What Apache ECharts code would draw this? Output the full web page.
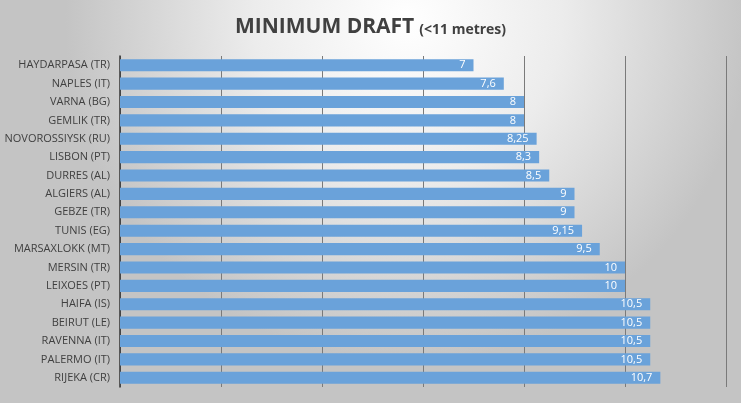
<!DOCTYPE html>
<html><head><meta charset="utf-8">
<script src="https://cdn.jsdelivr.net/npm/echarts@6/dist/echarts.min.js"></script>
<style>html,body{margin:0;padding:0;}#c{width:741px;height:403px;}</style>
</head><body><div id="c"></div>
<script>
const categories = ["HAYDARPASA (TR)","NAPLES (IT)","VARNA (BG)","GEMLIK (TR)","NOVOROSSIYSK (RU)","LISBON (PT)","DURRES (AL)","ALGIERS (AL)","GEBZE (TR)","TUNIS (EG)","MARSAXLOKK (MT)","MERSIN (TR)","LEIXOES (PT)","HAIFA (IS)","BEIRUT (LE)","RAVENNA (IT)","PALERMO (IT)","RIJEKA (CR)"];
const values = [7,7.6,8,8,8.25,8.3,8.5,9,9,9.15,9.5,10,10,10.5,10.5,10.5,10.5,10.7];
const chart = echarts.init(document.getElementById('c'));
chart.setOption({
  backgroundColor: {type:'radial', x:0.55, y:0.05, r:0.85, colorStops:[{offset:0,color:'#ffffff'},{offset:0.45,color:'#ececec'},{offset:1,color:'#c4c4c4'}]},
  title: {
    text: '{a|MINIMUM DRAFT} {b|(<11 metres)}',
    left: 'center', top: 12,
    textStyle: {rich: {
      a: {fontFamily:'Open Sans', fontWeight:'bold', fontSize:21, color:'#404040'},
      b: {fontFamily:'Open Sans', fontWeight:'bold', fontSize:14, color:'#404040', padding:[5,0,0,0]}
    }}
  },
  grid: {left:120, right:15, top:56, bottom:16},
  xAxis: {type:'value', min:0, max:12, interval:2,
    axisLabel:{show:false}, axisLine:{show:false}, axisTick:{show:false},
    splitLine:{show:true, lineStyle:{color:'#7a7a7a', width:1}}},
  yAxis: {type:'category', inverse:true, data:categories,
    axisLine:{show:true, lineStyle:{color:'#333', width:1.5}}, axisTick:{show:false},
    axisLabel:{color:'#404040', fontFamily:'Open Sans', fontSize:11, margin:10}},
  series: [{type:'bar', data:values, barCategoryGap:'34%',
    itemStyle:{color:'#6aa2da'},
    label:{show:true, position:'insideRight', offset:[-3,0], color:'#ffffff', fontFamily:'Open Sans', fontSize:11,
      formatter: p => String(p.value).replace('.', ',')}
  }]
});
</script></body></html>
